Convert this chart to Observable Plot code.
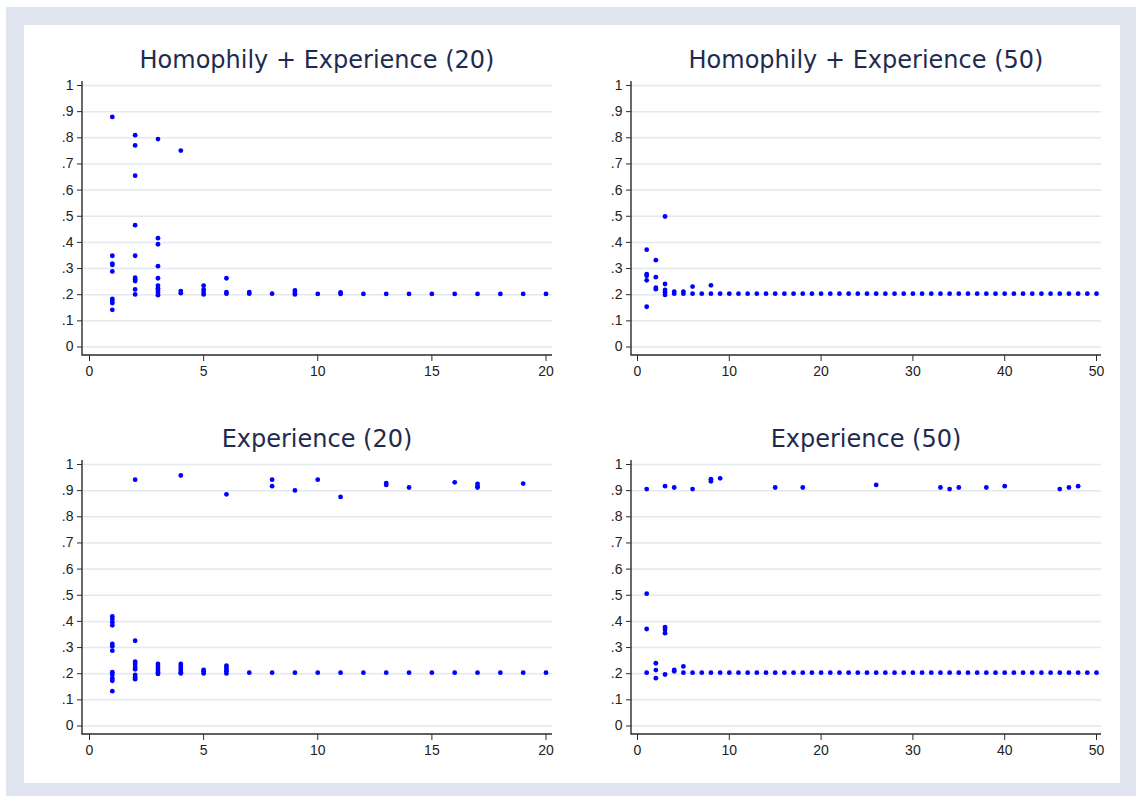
<!DOCTYPE html>
<html>
<head>
<meta charset="utf-8">
<script src="https://cdn.jsdelivr.net/npm/d3@7"></script>
<script src="https://cdn.jsdelivr.net/npm/@observablehq/plot@0.6"></script>
<style>
  html, body { margin: 0; padding: 0; background: #ffffff; }
  #page { position: relative; width: 1136px; height: 796px; overflow: hidden; font-family: "Liberation Sans", Arial, sans-serif; }
  #outer { position: absolute; left: 6px; top: 7px; width: 1130px; height: 789px; background: #dfe4ee; }
  #inner { position: absolute; left: 24px; top: 25px; width: 1096px; height: 758px; background: #ffffff; }
  .title { position: absolute; width: 470px; text-align: center; font-family: "DejaVu Sans", Verdana, sans-serif; font-size: 24px; line-height: 26px; color: #1e2b4f; white-space: nowrap; }
  .panel { position: absolute; }
</style>
</head>
<body>
<div id="page">
  <div id="outer"></div>
  <div id="inner"></div>
</div>
<script>
// ---- tick values & labels ----
const yTicks = [0, 0.1, 0.2, 0.3, 0.4, 0.5, 0.6, 0.7, 0.8, 0.9, 1];
const yTickLabels = ["0", ".1", ".2", ".3", ".4", ".5", ".6", ".7", ".8", ".9", "1"];
const xTicks20 = [0, 5, 10, 15, 20];
const xTicks50 = [0, 10, 20, 30, 40, 50];

// ---- panel titles ----
const titles = ["Homophily + Experience (20)", "Homophily + Experience (50)", "Experience (20)", "Experience (50)"];

// ---- x categories ----
const x20 = [1,2,3,4,5,6,7,8,9,10,11,12,13,14,15,16,17,18,19,20];
const x50 = [1,2,3,4,5,6,7,8,9,10,11,12,13,14,15,16,17,18,19,20,21,22,23,24,25,26,27,28,29,30,31,32,33,34,35,36,37,38,39,40,41,42,43,44,45,46,47,48,49,50];

// ---- values: one list of y values per x ----
const homExp20 = [
  [0.880, 0.349, 0.319, 0.314, 0.289, 0.184, 0.176, 0.168, 0.142],
  [0.810, 0.771, 0.655, 0.466, 0.349, 0.265, 0.258, 0.252, 0.220, 0.201],
  [0.795, 0.416, 0.393, 0.309, 0.263, 0.235, 0.225, 0.216, 0.207, 0.198],
  [0.751, 0.214, 0.206],
  [0.235, 0.220, 0.210, 0.201],
  [0.263, 0.210, 0.204],
  [0.210, 0.204],
  [0.204],
  [0.216, 0.207, 0.201],
  [0.203],
  [0.209, 0.203],
  [0.203], [0.203], [0.203], [0.203], [0.203], [0.203], [0.203], [0.203], [0.203]
];

const homExp50 = [
  [0.372, 0.279, 0.272, 0.255, 0.154],
  [0.332, 0.267, 0.227, 0.221],
  [0.499, 0.241, 0.218, 0.209, 0.199],
  [0.212, 0.204],
  [0.212, 0.204],
  [0.231, 0.204],
  [0.204],
  [0.236, 0.204],
  [0.204], [0.204], [0.204], [0.204], [0.204], [0.204], [0.204], [0.204], [0.204], [0.204],
  [0.204], [0.204], [0.204], [0.204], [0.204], [0.204], [0.204], [0.204], [0.204], [0.204],
  [0.204], [0.204], [0.204], [0.204], [0.204], [0.204], [0.204], [0.204], [0.204], [0.204],
  [0.204], [0.204], [0.204], [0.204], [0.204], [0.204], [0.204], [0.204], [0.204], [0.204],
  [0.204], [0.204]
];

const exp20 = [
  [0.419, 0.409, 0.397, 0.385, 0.314, 0.305, 0.288, 0.206, 0.196, 0.183, 0.173, 0.133],
  [0.942, 0.326, 0.246, 0.237, 0.226, 0.217, 0.195, 0.186, 0.179],
  [0.237, 0.229, 0.222, 0.214, 0.206, 0.199],
  [0.958, 0.237, 0.229, 0.222, 0.214, 0.206, 0.201],
  [0.215, 0.209, 0.201],
  [0.886, 0.231, 0.223, 0.215, 0.209, 0.201],
  [0.204],
  [0.942, 0.917, 0.204],
  [0.901, 0.204],
  [0.942, 0.204],
  [0.876, 0.204],
  [0.204],
  [0.929, 0.922, 0.204],
  [0.912, 0.204],
  [0.204],
  [0.932, 0.204],
  [0.926, 0.917, 0.912, 0.204],
  [0.204],
  [0.927, 0.204],
  [0.204]
];

const exp50 = [
  [0.906, 0.506, 0.371, 0.204],
  [0.240, 0.214, 0.183],
  [0.917, 0.378, 0.368, 0.355, 0.197],
  [0.912, 0.215, 0.209],
  [0.228, 0.204],
  [0.906, 0.204],
  [0.204],
  [0.944, 0.936, 0.204],
  [0.947, 0.204],
  [0.204], [0.204], [0.204], [0.204], [0.204],
  [0.912, 0.204],
  [0.204], [0.204],
  [0.912, 0.204],
  [0.204], [0.204], [0.204], [0.204], [0.204], [0.204], [0.204],
  [0.922, 0.204],
  [0.204], [0.204], [0.204], [0.204], [0.204], [0.204],
  [0.912, 0.204],
  [0.906, 0.204],
  [0.912, 0.204],
  [0.204], [0.204],
  [0.912, 0.204],
  [0.204],
  [0.917, 0.204],
  [0.204], [0.204], [0.204], [0.204], [0.204],
  [0.906, 0.204],
  [0.912, 0.204],
  [0.917, 0.204],
  [0.204], [0.204]
];

const panels = [
  {title: titles[0], xs: x20, vals: homExp20, xTicks: xTicks20, left: 30, top: 75, insetL: 7, insetR: 6.5},
  {title: titles[1], xs: x50, vals: homExp50, xTicks: xTicks50, left: 579, top: 75, insetL: 6, insetR: 5},
  {title: titles[2], xs: x20, vals: exp20, xTicks: xTicks20, left: 30, top: 454, insetL: 7, insetR: 6.5},
  {title: titles[3], xs: x50, vals: exp50, xTicks: xTicks50, left: 579, top: 454, insetL: 6, insetR: 5}
];

const W = 532, H = 320, ML = 52, MR = 10, MT = 6, MB = 40;
const page = document.getElementById("page");
const axisColor = "#2b2b2b";
const labelFmt = d => yTickLabels[yTicks.indexOf(d)] ?? String(d);

for (const p of panels) {
  const data = p.xs.flatMap((x, i) => p.vals[i].map(v => ({x, y: v})));
  const svg = Plot.plot({
    width: W, height: H,
    marginLeft: ML, marginRight: MR, marginTop: MT, marginBottom: MB,
    style: {fontFamily: "'Liberation Sans', Arial, sans-serif", fontSize: "14px", color: "#222", background: "transparent", overflow: "visible"},
    x: {domain: [p.xTicks[0], p.xTicks[p.xTicks.length - 1]], insetLeft: p.insetL, insetRight: p.insetR},
    y: {domain: [0, 1], insetTop: 4, insetBottom: 8.5},
    marks: [
      Plot.gridY(yTicks, {stroke: "#e3e8f1", strokeOpacity: 1, strokeWidth: 1.5}),
      Plot.axisY(yTicks, {tickSize: 5, tickPadding: 4, tickFormat: labelFmt, label: null, stroke: axisColor, fill: "#222", fontSize: 14}),
      Plot.axisX(p.xTicks, {tickSize: 6, tickPadding: 5, tickFormat: d => String(d), label: null, stroke: axisColor, fill: "#222", fontSize: 14}),
      Plot.dot(data, {x: "x", y: "y", r: 2.4, fill: "#0000ff", stroke: null})
    ]
  });
  d3.select(svg).append("path")
    .attr("d", `M${ML},${MT}V${H - MB}H${W - MR}`)
    .attr("fill", "none").attr("stroke", axisColor).attr("stroke-width", 1.4);
  svg.classList.add("panel");
  svg.style.position = "absolute";
  svg.style.left = p.left + "px";
  svg.style.top = p.top + "px";
  page.appendChild(svg);

  const t = document.createElement("div");
  t.className = "title";
  t.textContent = p.title;
  t.style.left = (p.left + ML) + "px";
  t.style.top = (p.top - 28) + "px";
  page.appendChild(t);
}
</script>
</body>
</html>
